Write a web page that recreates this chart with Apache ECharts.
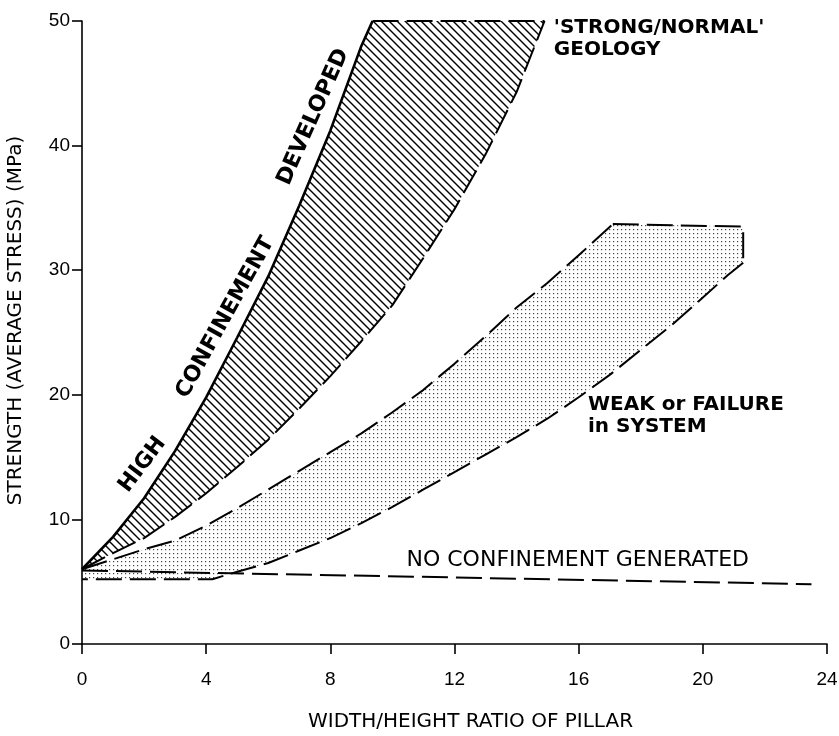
<!DOCTYPE html>
<html>
<head>
<meta charset="utf-8">
<script src="https://cdn.jsdelivr.net/npm/echarts@6/dist/echarts.min.js"></script>
<style>
  html, body { margin: 0; background: #fff; }
  #chart { width: 839px; height: 736px; }
</style>
</head>
<body>
<div id="chart"></div>
<script>
// hatched band ("strong/normal" geology), [ratio, MPa]
const strongUpper = [[0, 6], [1, 8.6], [2, 11.7], [3, 15.5], [4, 19.8], [5, 24.6], [6, 29.5], [7, 35.2], [8, 41.2], [9, 48.0], [9.36, 50]];
const strongTop = [[9.36, 50], [14.9, 50]];
const strongLower = [[0, 6], [1, 7.3], [2, 8.5], [3, 10.2], [4, 12.1], [5, 14.2], [6, 16.4], [7, 18.9], [8, 21.5], [9, 24.3], [10, 27.2], [11, 31.0], [12, 34.9], [13, 39.3], [14, 44.3], [14.9, 50]];

// dotted band (weak geology / failure in system)
const weakUpper = [[0, 6], [1, 6.8], [2, 7.6], [3, 8.3], [4, 9.5], [5, 10.9], [6, 12.4], [7, 13.9], [8, 15.4], [9, 16.9], [10, 18.6], [11, 20.4], [12, 22.5], [13, 24.7], [14, 27.0], [15, 29.0], [16, 31.2], [17.1, 33.7]];
const weakTop = [[17.1, 33.7], [21.3, 33.5], [21.3, 30.6]];
const weakLower = [[21.3, 30.6], [20.8, 29.6], [20, 27.8], [19, 25.6], [18, 23.6], [17, 21.6], [16, 19.8], [15, 18.1], [14, 16.6], [13, 15.2], [12, 13.8], [11, 12.4], [10, 11.0], [9, 9.7], [8, 8.5], [7, 7.5], [6, 6.5], [5, 5.8], [4.6, 5.5], [4.2, 5.2], [0, 5.2]];

// no confinement line
const noConfinement = [[0, 5.9], [23.5, 4.8]];

// text notes: [text, x, y, rotate]
const slopeNotes = [["HIGH", 1.95, 14.4, 53], ["CONFINEMENT", 4.62, 26.2, 61], ["DEVELOPED", 7.45, 42.3, 66]];
const sideNotes = [["'STRONG/NORMAL'\nGEOLOGY", 15.2, 48.6], ["WEAK or FAILURE\nin SYSTEM", 16.3, 18.3]];
const lineNotes = [["NO CONFINEMENT GENERATED", 15.97, 6.7]];

const ink = '#000';
const font = '"DejaVu Sans", "Liberation Sans", sans-serif';

function hatchTile() {
  const c = document.createElement('canvas');
  c.width = 8; c.height = 8;
  const g = c.getContext('2d');
  g.strokeStyle = ink; g.lineWidth = 1.4;
  g.beginPath();
  g.moveTo(-2, -2); g.lineTo(10, 10);
  g.moveTo(-2, 6); g.lineTo(2, 10);
  g.moveTo(6, -2); g.lineTo(10, 2);
  g.stroke();
  return c;
}

function dotTile() {
  const c = document.createElement('canvas');
  c.width = 4; c.height = 4;
  const g = c.getContext('2d');
  g.fillStyle = '#444';
  g.fillRect(1, 1, 1.2, 1.2);
  return c;
}

function band(pts, tile) {
  return {
    type: 'custom', silent: true, z: 1, data: [0],
    renderItem: (params, api) => ({
      type: 'polygon',
      shape: { points: pts.map(p => api.coord(p)) },
      style: { fill: { image: tile, repeat: 'repeat' } }
    })
  };
}

function edge(data, dash, width) {
  return {
    type: 'line', data, symbol: 'none', silent: true, z: 3,
    lineStyle: { color: ink, width: width || 2, type: dash ? [26, 8] : 'solid' }
  };
}

function notes(list, opts) {
  return {
    type: 'scatter', symbolSize: 0, silent: true, z: 5,
    itemStyle: { opacity: 1 },
    data: list.map(n => ({ name: n[0], value: [n[1], n[2]], label: n[3] ? { rotate: n[3] } : {} })),
    label: Object.assign({ show: true, formatter: '{b}', color: ink, fontFamily: font }, opts)
  };
}

const chart = echarts.init(document.getElementById('chart'));

chart.setOption({
  animation: false,
  backgroundColor: '#fff',
  grid: { left: 82, right: 12, top: 21, bottom: 92, outerBoundsMode: 'none' },
  xAxis: {
    type: 'value', min: 0, max: 24, interval: 4,
    name: 'WIDTH/HEIGHT RATIO OF PILLAR', nameLocation: 'middle', nameGap: 68,
    nameTextStyle: { color: ink, fontSize: 20, fontFamily: font, padding: [0, 0, 0, 32] },
    axisLine: { lineStyle: { color: ink, width: 1.6 } },
    axisTick: { length: 10, lineStyle: { color: ink, width: 1.6 } },
    axisLabel: { color: ink, fontSize: 19, margin: 26, fontFamily: '"Liberation Sans", sans-serif' },
    splitLine: { show: false }
  },
  yAxis: {
    type: 'value', min: 0, max: 50, interval: 10,
    name: 'STRENGTH (AVERAGE STRESS) (MPa)', nameLocation: 'middle', nameGap: 56, nameRotate: 90,
    nameTextStyle: { color: ink, fontSize: 20, fontFamily: font, padding: [0, 0, 0, 24] },
    axisLine: { show: true, lineStyle: { color: ink, width: 1.6 } },
    axisTick: { show: true, length: 10, lineStyle: { color: ink, width: 1.6 } },
    axisLabel: { color: ink, fontSize: 19, margin: 12, fontFamily: '"Liberation Sans", sans-serif' },
    splitLine: { show: false }
  },
  series: [
    band(strongUpper.concat(strongTop, strongLower.slice().reverse()), hatchTile()),
    band(weakUpper.concat(weakTop, weakLower), dotTile()),
    edge(strongUpper, false, 2.6),
    edge(strongTop, true),
    edge(strongLower, true),
    edge(weakUpper, true),
    edge(weakTop, true),
    edge(weakLower, true),
    edge(noConfinement, true),
    notes(slopeNotes, { position: 'inside', fontSize: 22, fontWeight: 'bold' }),
    notes(sideNotes, { position: 'right', distance: 0, fontSize: 20, fontWeight: 'bold', lineHeight: 22 }),
    notes(lineNotes, { position: 'inside', fontSize: 22 })
  ]
});

window.addEventListener('resize', () => chart.resize());
</script>
</body>
</html>
